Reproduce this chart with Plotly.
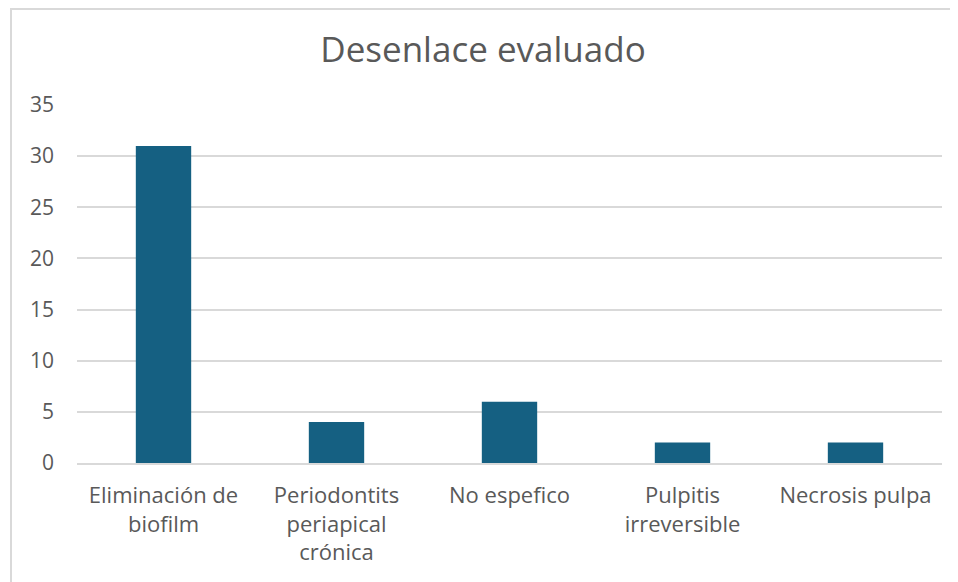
import plotly.graph_objects as go

categories = ["Eliminación de<br>biofilm", "Periodontits<br>periapical<br>crónica", "No espefico",
              "Pulpitis<br>irreversible", "Necrosis pulpa"]
values = [31, 4, 6, 2, 2]
y_ticks = [0, 5, 10, 15, 20, 25, 30, 35]

# page body has an 8px margin, so the figure starts at window (8, 8)
W, H = 950, 574
ml, mr, mt, mb = 69, 16, 97, 119
pw, ph = W - ml - mr, H - mt - mb

fig = go.Figure(go.Bar(x=categories, y=values, marker_color="#156082",
                       marker_line_width=0, width=0.32))

fig.update_layout(
    width=W, height=H,
    margin=dict(l=ml, r=mr, t=mt, b=mb),
    paper_bgcolor="white", plot_bgcolor="white",
    font=dict(family="Open Sans, Lato, sans-serif", color="#595959"),
    title=dict(text="Desenlace evaluado", x=0.5, xanchor="center",
               y=1 - 42 / H, yanchor="middle",
               font=dict(size=35, color="#595959")),
    showlegend=False,
    bargap=0.68,
)
fig.update_yaxes(range=[0, 35], tickvals=y_ticks, showgrid=True, gridcolor="#d9d9d9",
                 gridwidth=1.5, zeroline=False, showline=False,
                 tickfont=dict(size=21, color="#595959"), ticklabelstandoff=22)
fig.update_xaxes(showline=True, linecolor="#d9d9d9", linewidth=1.5,
                 tickfont=dict(size=22, color="#595959"), ticks="",
                 ticklabelstandoff=12)

# outer chart border
fig.add_shape(type="rect", xref="paper", yref="paper",
              x0=(3 - ml) / pw, x1=(W + 5 - ml) / pw,
              y0=-(H + 5 - mt - ph) / ph, y1=(H - 1 - mb) / ph,
              line=dict(color="#d9d9d9", width=2), layer="below")

fig.write_html("out.html")
